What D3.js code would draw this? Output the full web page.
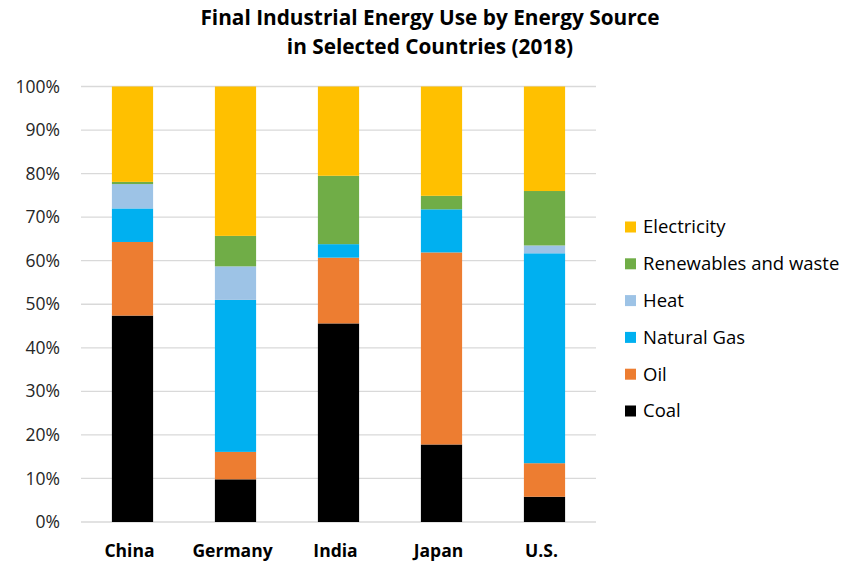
<!DOCTYPE html>
<html>
<head>
<meta charset="utf-8">
<script src="https://cdn.jsdelivr.net/npm/d3@7"></script>
<style>
  html, body { margin: 0; padding: 0; background: #fff; }
  svg { display: block; font-family: "Open Sans", "Liberation Sans", sans-serif; }
</style>
</head>
<body>
<svg id="chart" width="844" height="563"></svg>
<script>
// Share of final industrial energy use (%), 2018
const countries = ["China", "Germany", "India", "Japan", "U.S."];
const sources = ["Coal", "Oil", "Natural Gas", "Heat", "Renewables and waste", "Electricity"];
const coal        = [47.4,  9.8, 45.6, 17.8,  5.8];
const oil         = [16.9,  6.3, 15.1, 44.1,  7.7];
const naturalGas  = [ 7.7, 34.9,  3.1,  9.9, 48.2];
const heat        = [ 5.6,  7.7,  0.0,  0.0,  1.8];
const renewables  = [ 0.5,  7.0, 15.7,  3.1, 12.5];
const electricity = [21.9, 34.3, 20.5, 25.1, 24.0];
const yTicks = [0, 10, 20, 30, 40, 50, 60, 70, 80, 90, 100];
const colors = ["#000000", "#ED7D31", "#00B0F0", "#9DC3E6", "#70AD47", "#FFC000"];

const FONT = '"Open Sans", "Liberation Sans", sans-serif';

const seriesValues = [coal, oil, naturalGas, heat, renewables, electricity];
const rows = countries.map((c, i) => {
  const r = { country: c };
  sources.forEach((s, k) => { r[s] = seriesValues[k][i]; });
  return r;
});

const svg = d3.select("#chart");
const plot = { left: 81, right: 596, top: 86.5, bottom: 522 };

const x = d3.scaleBand().domain(countries).range([plot.left, plot.right]).paddingInner(0.6).paddingOuter(0.3);
const y = d3.scaleLinear().domain([0, 100]).range([plot.bottom, plot.top]);

// Title
const title = svg.append("text")
  .attr("x", 430).attr("text-anchor", "middle").attr("font-family", FONT)
  .attr("font-size", 20.8).attr("font-weight", "bold").attr("fill", "#000");
title.append("tspan").attr("x", 430).attr("y", 25).text("Final Industrial Energy Use by Energy Source");
title.append("tspan").attr("x", 430).attr("y", 54).text("in Selected Countries (2018)");

// Gridlines
svg.append("g").selectAll("line").data(yTicks).join("line")
  .attr("x1", plot.left).attr("x2", plot.right)
  .attr("y1", d => y(d)).attr("y2", d => y(d))
  .attr("stroke", "#d9d9d9").attr("stroke-width", 1.3);

// Y axis labels
const yAxis = d3.axisLeft(y).tickValues(yTicks).tickFormat(d => d + "%").tickSize(0).tickPadding(0);
const yg = svg.append("g").attr("transform", `translate(${plot.left - 21},0)`).call(yAxis);
yg.select(".domain").remove();
yg.selectAll("text").attr("font-size", 17.5).attr("fill", "#262626").attr("font-family", FONT);

// Stacked bars
const stack = d3.stack().keys(sources);
const layers = stack(rows);
svg.append("g").selectAll("g").data(layers).join("g")
  .attr("fill", (d, i) => colors[i])
  .selectAll("rect").data(d => d).join("rect")
  .attr("x", d => x(d.data.country))
  .attr("width", x.bandwidth())
  .attr("y", d => y(d[1]))
  .attr("height", d => Math.max(0, y(d[0]) - y(d[1])));

// X axis labels
const xAxis = d3.axisBottom(x).tickSize(0).tickPadding(0);
const xg = svg.append("g").attr("transform", `translate(-3,${plot.bottom + 35})`).call(xAxis);
xg.select(".domain").remove();
xg.selectAll("text").attr("font-size", 17.5).attr("font-weight", "bold").attr("fill", "#000").attr("font-family", FONT).attr("dy", 0);

// Legend (top to bottom: Electricity ... Coal)
const legendItems = sources.map((s, i) => ({ name: s, color: colors[i] })).reverse();
const lg = svg.append("g").selectAll("g").data(legendItems).join("g")
  .attr("transform", (d, i) => `translate(625,${227 + i * 36.8})`);
lg.append("rect").attr("x", 0).attr("y", -5.5).attr("width", 11).attr("height", 11).attr("fill", d => d.color);
lg.append("text").attr("x", 18).attr("y", 0).attr("dy", "0.35em").attr("font-family", FONT)
  .attr("font-size", 18.5).attr("fill", "#000").text(d => d.name);
</script>
</body>
</html>
